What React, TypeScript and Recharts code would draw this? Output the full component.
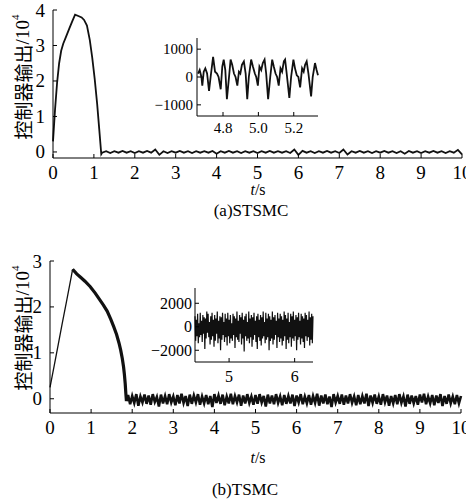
import { LineChart, Line, XAxis, YAxis } from "recharts";

const SERIF = '"Liberation Serif", "Times New Roman", serif';
const CJK = '"Noto Sans CJK SC", sans-serif';
const INK = "#111";

// (a) STSMC, main plot, units of 10^4
const stsmcT = [0, 0.05, 0.1, 0.15, 0.2, 0.25, 0.32, 0.4, 0.47, 0.54, 0.62, 0.7, 0.76, 0.83, 0.9, 0.96, 1.02, 1.08, 1.13, 1.18];
const stsmcU = [0.3, 1.2, 1.95, 2.5, 2.85, 3.05, 3.25, 3.48, 3.68, 3.87, 3.83, 3.79, 3.72, 3.56, 3.15, 2.65, 2.05, 1.35, 0.65, -0.06];
const stsmcNoiseStart = 1.2;
const stsmcNoiseStep = 0.1;
const stsmcNoise = [
  -0.02, 0.02, -0.03, 0.02, -0.02, 0.03, -0.02, 0.02, -0.03, 0.02,
  -0.02, 0.03, -0.02, 0.07, -0.08, 0.02, -0.03, 0.02, -0.02, 0.03,
  -0.02, 0.02, -0.03, 0.02, -0.02, 0.02, -0.02, 0.03, -0.05, 0.02,
  -0.02, 0.03, -0.02, 0.02, -0.03, 0.02, -0.02, 0.02, -0.03, 0.02,
  -0.02, 0.03, -0.02, 0.02, -0.02, 0.02, -0.03, 0.07, -0.08, 0.03,
  -0.02, 0.02, -0.03, 0.02, -0.02, 0.03, -0.02, 0.02, -0.03, 0.07,
  -0.07, 0.02, -0.02, 0.03, -0.02, 0.02, -0.03, 0.02, -0.02, 0.03,
  -0.02, 0.02, -0.03, 0.02, -0.05, 0.03, -0.02, 0.02, -0.03, 0.02,
  -0.02, 0.03, -0.02, 0.02, -0.03, 0.02, -0.02, 0.06, -0.07,
];

// (a) inset, raw units
const insetAT = [
  4.659, 4.668, 4.678, 4.683, 4.691, 4.7, 4.71, 4.721, 4.73, 4.744,
  4.755, 4.766, 4.775, 4.787, 4.796, 4.804, 4.813, 4.822, 4.834, 4.843,
  4.852, 4.862, 4.871, 4.881, 4.89, 4.898, 4.907, 4.918, 4.928, 4.937,
  4.946, 4.959, 4.969, 4.98, 4.988, 4.997, 5.006, 5.016, 5.025, 5.035,
  5.044, 5.055, 5.067, 5.078, 5.087, 5.097, 5.106, 5.115, 5.125, 5.134,
  5.144, 5.151, 5.16, 5.175, 5.185, 5.198, 5.207, 5.217, 5.226, 5.236,
  5.247, 5.256, 5.264, 5.273, 5.283, 5.298, 5.307, 5.32, 5.329, 5.337,
];
const insetAU = [
  125, 250, 0, -310, 190, 310, 125, -500, 0, 720,
  190, 125, 0, -440, 375, 625, 250, -800, 0, 625,
  440, 125, 0, -310, 190, 125, 440, 560, 125, -800,
  0, 625, 375, 125, 0, -310, 375, 250, 500, 625,
  125, -800, 0, 625, 375, 125, 0, -310, 310, 190,
  560, 625, 125, -750, 0, 625, 310, 60, 0, -375,
  310, 190, 440, 560, 125, -700, 0, 500, 250, 60,
];

// (b) TSMC, main plot, units of 10^4
const tsmcRiseT = [0, 0.1, 0.2, 0.3, 0.4, 0.5, 0.55];
const tsmcRiseU = [0.25, 0.71, 1.18, 1.65, 2.11, 2.58, 2.82];
const tsmcDecayT = [0.55, 0.65, 0.75, 0.85, 0.98, 1.1, 1.2, 1.3, 1.39, 1.48, 1.55, 1.62, 1.68, 1.72, 1.76, 1.79, 1.81, 1.83, 1.845, 1.86];
const tsmcDecayU = [2.82, 2.72, 2.64, 2.56, 2.44, 2.3, 2.17, 2.04, 1.91, 1.73, 1.57, 1.4, 1.21, 1.06, 0.87, 0.69, 0.53, 0.33, 0.12, -0.05];
const tsmcNoiseStart = 1.9;
const tsmcNoiseStep = 0.05;
const tsmcNoise = [
  0.08, -0.12, 0.06, -0.09, 0.1, -0.15, 0.05, -0.08, 0.09, -0.11,
  0.07, -0.13, 0.1, -0.07, 0.04, -0.17, 0.09, -0.1, 0.06, -0.12,
  0.1, -0.08, 0.05, -0.14, 0.08, -0.1, 0.11, -0.09, 0.06, -0.16,
  0.09, -0.11, 0.07, -0.08, 0.1, -0.13, 0.05, -0.1, 0.08, -0.12,
  0.06, -0.18, 0.1, -0.09, 0.07, -0.11, 0.09, -0.14, 0.05, -0.1,
  0.11, -0.12, 0.06, -0.08, 0.09, -0.15, 0.07, -0.1, 0.1, -0.09,
  0.05, -0.13, 0.08, -0.11, 0.1, -0.08, 0.06, -0.17, 0.09, -0.1,
  0.07, -0.12, 0.1, -0.09, 0.05, -0.14, 0.08, -0.11, 0.06, -0.1,
  0.09, -0.16, 0.07, -0.08, 0.1, -0.12, 0.05, -0.1, 0.08, -0.13,
  0.06, -0.09, 0.11, -0.15, 0.07, -0.1, 0.09, -0.12, 0.05, -0.18,
  0.1, -0.08, 0.06, -0.11, 0.09, -0.13, 0.07, -0.1, 0.1, -0.09,
  0.05, -0.14, 0.08, -0.12, 0.06, -0.1, 0.11, -0.16, 0.07, -0.09,
  0.09, -0.11, 0.05, -0.13, 0.1, -0.08, 0.07, -0.15, 0.06, -0.1,
  0.08, -0.12, 0.1, -0.09, 0.05, -0.17, 0.09, -0.11, 0.07, -0.1,
  0.06, -0.13, 0.09, -0.08, 0.11, -0.12, 0.05, -0.1, 0.08, -0.14,
  0.07, -0.09, 0.1, -0.16, 0.06, -0.11, 0.09, -0.1, 0.05, -0.12,
  0.08, -0.1, 0.06,
];

// (b) inset, raw units
const insetBStart = 4.48;
const insetBStep = 0.01;
const insetBU = [
  900, -1200, 600, -800, 1100, -1400, 300, -900, 1200, -700,
  500, -1300, 1000, -600, 800, -1900, 700, -1000, 1300, -500,
  1100, -900, 400, -1500, 900, -1100, 1200, -800, 600, -1700,
  1000, -1200, 700, -600, 1300, -1400, 500, -1000, 900, -2000,
  800, -1100, 1200, -700, 400, -1300, 1100, -900, 700, -1600,
  1200, -800, 600, -1400, 1000, -1000, 300, -1200, 1100, -700,
  900, -1800, 700, -900, 1300, -1100, 500, -1300, 1000, -600,
  800, -1500, 1200, -1000, 600, -2100, 900, -800, 1100, -1200,
  400, -1000, 1300, -1400, 700, -900, 1000, -1700, 800, -1100,
  1200, -700, 500, -1300, 900, -1900, 1100, -900, 600, -1200,
  1000, -1600, 800, -1000, 1300, -800, 400, -1400, 1200, -1100,
  700, -900, 1100, -2000, 900, -1200, 600, -1000, 1300, -1500,
  800, -1100, 1000, -700, 500, -1800, 1200, -900, 700, -1300,
  1100, -1000, 900, -1600, 600, -1200, 1300, -800, 1000, -1900,
  700, -1100, 1200, -1400, 400, -900, 1100, -1700, 900, -1000,
  1300, -1200, 600, -800, 1000, -2000, 800, -1100, 1200, -900,
  500, -1500, 1100, -1000, 900, -1300, 700, -1800, 1200, -800,
  1000, -1200, 600, -900, 1300, -1600, 800, -1100, 1100, -1400,
  900,
];

const mainTicksX = [0, 1, 2, 3, 4, 5, 6, 7, 8, 9, 10];
const stsmcTicksY = [0, 1, 2, 3, 4];
const tsmcTicksY = [0, 1, 2, 3];
const insetATicksX = [4.8, 5.0, 5.2];
const insetATicksY = [-1000, 0, 1000];
const insetBTicksX = [5, 6];
const insetBTicksY = [-2000, 0, 2000];

const pairs = (ts: number[], us: number[]) => ts.map((t, i) => ({ t, u: us[i] }));
const sampled = (start: number, step: number, us: number[]) =>
  us.map((u, i) => ({ t: +(start + i * step).toFixed(3), u }));

const stsmcData = [...pairs(stsmcT, stsmcU), ...sampled(stsmcNoiseStart, stsmcNoiseStep, stsmcNoise)];
const insetAData = pairs(insetAT, insetAU);
const tsmcRise = pairs(tsmcRiseT, tsmcRiseU);
const tsmcDecay = pairs(tsmcDecayT, tsmcDecayU);
const tsmcRest = [tsmcDecay[tsmcDecay.length - 1], ...sampled(tsmcNoiseStart, tsmcNoiseStep, tsmcNoise)];
const insetBData = sampled(insetBStart, insetBStep, insetBU);

const minus = (s: string) => s.replace("-", "\u2212");

function xTick(fontSize: number, dy: number, fmt: (v: number) => string) {
  return (p: any) => (
    <g>
      <line x1={p.x} y1={p.y} x2={p.x} y2={p.y - 4} stroke="#000" />
      <text x={p.x} y={p.y + dy} textAnchor="middle" fontSize={fontSize} fontFamily={SERIF} fill="#000">
        {fmt(p.payload.value)}
      </text>
    </g>
  );
}

function yTick(fontSize: number, gap: number, fmt: (v: number) => string) {
  return (p: any) => (
    <g>
      <line x1={p.x} y1={p.y} x2={p.x + 4} y2={p.y} stroke="#000" />
      <text x={p.x - gap} y={p.y} textAnchor="end" dominantBaseline="central" fontSize={fontSize} fontFamily={SERIF} fill="#000">
        {fmt(p.payload.value)}
      </text>
    </g>
  );
}

const box = (left: number, top: number): React.CSSProperties => ({ position: "absolute", left, top });

export default function App() {
  return (
    <div style={{ position: "absolute", left: 0, top: 0, width: 466, height: 503, background: "#fff", overflow: "hidden" }}>
      {/* (a) main */}
      <div style={box(0, 0)}>
        <LineChart width={466} height={200} data={stsmcData} margin={{ top: 10, right: 4, bottom: 41, left: 52 }}>
          <XAxis dataKey="t" type="number" domain={[0, 10]} ticks={mainTicksX} interval={0} height={1}
            tickSize={0} tickMargin={0} axisLine={{ stroke: "#000" }} tickLine={false} tick={xTick(19, 21, (v) => String(v))} />
          <YAxis type="number" domain={[-0.17, 4]} ticks={stsmcTicksY} interval={0} width={1}
            tickSize={0} tickMargin={0} axisLine={{ stroke: "#000" }} tickLine={false} tick={yTick(19, 8, (v) => String(v))} />
          <Line dataKey="u" stroke={INK} strokeWidth={1.8} dot={false} isAnimationActive={false} />
        </LineChart>
      </div>
      {/* (a) inset */}
      <div style={box(150, 30)}>
        <LineChart width={180} height={110} data={insetAData} margin={{ top: 8, right: 12, bottom: 23, left: 46 }}>
          <XAxis dataKey="t" type="number" domain={[4.653, 5.335]} ticks={insetATicksX} interval={0} height={1}
            tickSize={0} tickMargin={0} axisLine={{ stroke: "#000" }} tickLine={false} tick={xTick(15, 17, (v) => v.toFixed(1))} />
          <YAxis type="number" domain={[-1400, 1400]} ticks={insetATicksY} interval={0} width={1}
            tickSize={0} tickMargin={0} axisLine={{ stroke: "#000" }} tickLine={false} tick={yTick(15, 4, (v) => minus(String(v)))} />
          <Line dataKey="u" stroke={INK} strokeWidth={1.8} dot={false} isAnimationActive={false} />
        </LineChart>
      </div>
      {/* (b) main */}
      <div style={box(0, 250)}>
        <LineChart width={466} height={200} margin={{ top: 11, right: 5, bottom: 36, left: 49 }}>
          <XAxis dataKey="t" type="number" domain={[0, 10]} ticks={mainTicksX} interval={0} height={1}
            tickSize={0} tickMargin={0} axisLine={{ stroke: "#000" }} tickLine={false} tick={xTick(19, 21, (v) => String(v))} />
          <YAxis type="number" domain={[-0.31, 3]} ticks={tsmcTicksY} interval={0} width={1}
            tickSize={0} tickMargin={0} axisLine={{ stroke: "#000" }} tickLine={false} tick={yTick(19, 8, (v) => String(v))} />
          <Line data={tsmcRise} dataKey="u" stroke={INK} strokeWidth={1.3} dot={false} isAnimationActive={false} />
          <Line data={tsmcDecay} dataKey="u" stroke={INK} strokeWidth={3.2} dot={false} isAnimationActive={false} />
          <Line data={tsmcRest} dataKey="u" stroke={INK} strokeWidth={2.6} dot={false} isAnimationActive={false} />
        </LineChart>
      </div>
      {/* (b) inset */}
      <div style={box(140, 280)}>
        <LineChart width={180} height={110} data={insetBData} margin={{ top: 8, right: 7, bottom: 27, left: 54 }}>
          <XAxis dataKey="t" type="number" domain={[4.48, 6.28]} ticks={insetBTicksX} interval={0} height={1}
            tickSize={0} tickMargin={0} axisLine={{ stroke: "#000" }} tickLine={false} tick={xTick(16, 20, (v) => String(v))} />
          <YAxis type="number" domain={[-3000, 3300]} ticks={insetBTicksY} interval={0} width={1}
            tickSize={0} tickMargin={0} axisLine={{ stroke: "#000" }} tickLine={false} tick={yTick(16, 3, (v) => minus(String(v)))} />
          <Line dataKey="u" stroke={INK} strokeWidth={1.2} dot={false} isAnimationActive={false} />
        </LineChart>
      </div>
      {/* labels */}
      <svg width={466} height={503} style={{ position: "absolute", left: 0, top: 0, pointerEvents: "none" }}>
        {[77, 328].map((cy) => (
          <text key={cy} transform={`translate(22,${cy}) rotate(-90)`} textAnchor="middle" dominantBaseline="central" fontSize={19} fill="#000">
            <tspan fontFamily={CJK}>控制器输出</tspan>
            <tspan fontFamily={SERIF}>/10</tspan>
            <tspan fontFamily={SERIF} fontSize={11} dy={-7}>4</tspan>
          </text>
        ))}
        <text x={258} y={195} textAnchor="middle" fontSize={16} fontFamily={SERIF} fill="#000">
          <tspan fontStyle="italic">t</tspan>/s
        </text>
        <text x={258} y={463} textAnchor="middle" fontSize={16} fontFamily={SERIF} fill="#000">
          <tspan fontStyle="italic">t</tspan>/s
        </text>
        <text x={251} y={216} textAnchor="middle" fontSize={17} fontFamily={SERIF} fill="#000">(a)STSMC</text>
        <text x={245} y={495} textAnchor="middle" fontSize={17} fontFamily={SERIF} fill="#000">(b)TSMC</text>
      </svg>
    </div>
  );
}
